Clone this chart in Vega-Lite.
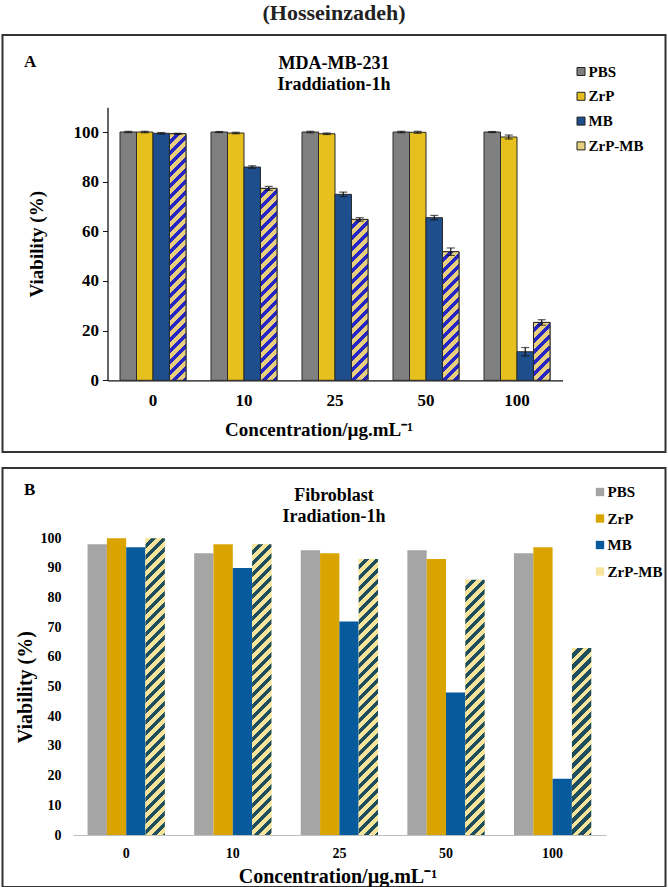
{
  "$schema": "https://vega.github.io/schema/vega-lite/v6.json",
  "padding": {"left": 1.5, "top": 2, "right": 1, "bottom": 0},
  "title": {"text": "(Hosseinzadeh)", "fontSize": 22, "font": "Liberation Serif", "fontWeight": "bold", "color": "#222", "anchor": "middle", "offset": 9},
  "params": [
    {"name": "hatchA", "value": [
      {"offset":0,"color":"#E8CF7E"},{"offset":0.022,"color":"#E8CF7E"},{"offset":0.022,"color":"#2626C4"},{"offset":0.04,"color":"#2626C4"},
      {"offset":0.04,"color":"#E8CF7E"},{"offset":0.062,"color":"#E8CF7E"},{"offset":0.062,"color":"#2626C4"},{"offset":0.08,"color":"#2626C4"},
      {"offset":0.08,"color":"#E8CF7E"},{"offset":0.102,"color":"#E8CF7E"},{"offset":0.102,"color":"#2626C4"},{"offset":0.12,"color":"#2626C4"},
      {"offset":0.12,"color":"#E8CF7E"},{"offset":0.142,"color":"#E8CF7E"},{"offset":0.142,"color":"#2626C4"},{"offset":0.16,"color":"#2626C4"},
      {"offset":0.16,"color":"#E8CF7E"},{"offset":0.182,"color":"#E8CF7E"},{"offset":0.182,"color":"#2626C4"},{"offset":0.2,"color":"#2626C4"},
      {"offset":0.2,"color":"#E8CF7E"},{"offset":0.222,"color":"#E8CF7E"},{"offset":0.222,"color":"#2626C4"},{"offset":0.24,"color":"#2626C4"},
      {"offset":0.24,"color":"#E8CF7E"},{"offset":0.262,"color":"#E8CF7E"},{"offset":0.262,"color":"#2626C4"},{"offset":0.28,"color":"#2626C4"},
      {"offset":0.28,"color":"#E8CF7E"},{"offset":0.302,"color":"#E8CF7E"},{"offset":0.302,"color":"#2626C4"},{"offset":0.32,"color":"#2626C4"},
      {"offset":0.32,"color":"#E8CF7E"},{"offset":0.342,"color":"#E8CF7E"},{"offset":0.342,"color":"#2626C4"},{"offset":0.36,"color":"#2626C4"},
      {"offset":0.36,"color":"#E8CF7E"},{"offset":0.382,"color":"#E8CF7E"},{"offset":0.382,"color":"#2626C4"},{"offset":0.4,"color":"#2626C4"},
      {"offset":0.4,"color":"#E8CF7E"},{"offset":0.422,"color":"#E8CF7E"},{"offset":0.422,"color":"#2626C4"},{"offset":0.44,"color":"#2626C4"},
      {"offset":0.44,"color":"#E8CF7E"},{"offset":0.462,"color":"#E8CF7E"},{"offset":0.462,"color":"#2626C4"},{"offset":0.48,"color":"#2626C4"},
      {"offset":0.48,"color":"#E8CF7E"},{"offset":0.502,"color":"#E8CF7E"},{"offset":0.502,"color":"#2626C4"},{"offset":0.52,"color":"#2626C4"},
      {"offset":0.52,"color":"#E8CF7E"},{"offset":0.542,"color":"#E8CF7E"},{"offset":0.542,"color":"#2626C4"},{"offset":0.56,"color":"#2626C4"},
      {"offset":0.56,"color":"#E8CF7E"},{"offset":0.582,"color":"#E8CF7E"},{"offset":0.582,"color":"#2626C4"},{"offset":0.6,"color":"#2626C4"},
      {"offset":0.6,"color":"#E8CF7E"},{"offset":0.622,"color":"#E8CF7E"},{"offset":0.622,"color":"#2626C4"},{"offset":0.64,"color":"#2626C4"},
      {"offset":0.64,"color":"#E8CF7E"},{"offset":0.662,"color":"#E8CF7E"},{"offset":0.662,"color":"#2626C4"},{"offset":0.68,"color":"#2626C4"},
      {"offset":0.68,"color":"#E8CF7E"},{"offset":0.702,"color":"#E8CF7E"},{"offset":0.702,"color":"#2626C4"},{"offset":0.72,"color":"#2626C4"},
      {"offset":0.72,"color":"#E8CF7E"},{"offset":0.742,"color":"#E8CF7E"},{"offset":0.742,"color":"#2626C4"},{"offset":0.76,"color":"#2626C4"},
      {"offset":0.76,"color":"#E8CF7E"},{"offset":0.782,"color":"#E8CF7E"},{"offset":0.782,"color":"#2626C4"},{"offset":0.8,"color":"#2626C4"},
      {"offset":0.8,"color":"#E8CF7E"},{"offset":0.822,"color":"#E8CF7E"},{"offset":0.822,"color":"#2626C4"},{"offset":0.84,"color":"#2626C4"},
      {"offset":0.84,"color":"#E8CF7E"},{"offset":0.862,"color":"#E8CF7E"},{"offset":0.862,"color":"#2626C4"},{"offset":0.88,"color":"#2626C4"},
      {"offset":0.88,"color":"#E8CF7E"},{"offset":0.902,"color":"#E8CF7E"},{"offset":0.902,"color":"#2626C4"},{"offset":0.92,"color":"#2626C4"},
      {"offset":0.92,"color":"#E8CF7E"},{"offset":0.942,"color":"#E8CF7E"},{"offset":0.942,"color":"#2626C4"},{"offset":0.96,"color":"#2626C4"},
      {"offset":0.96,"color":"#E8CF7E"},{"offset":0.982,"color":"#E8CF7E"},{"offset":0.982,"color":"#2626C4"},{"offset":1,"color":"#2626C4"}
    ]},
    {"name": "hatchB", "value": [
      {"offset":0,"color":"#F7E49C"},{"offset":0.017,"color":"#F7E49C"},{"offset":0.017,"color":"#1E4E5E"},{"offset":0.03125,"color":"#1E4E5E"},
      {"offset":0.03125,"color":"#F7E49C"},{"offset":0.04825,"color":"#F7E49C"},{"offset":0.04825,"color":"#1E4E5E"},{"offset":0.0625,"color":"#1E4E5E"},
      {"offset":0.0625,"color":"#F7E49C"},{"offset":0.0795,"color":"#F7E49C"},{"offset":0.0795,"color":"#1E4E5E"},{"offset":0.09375,"color":"#1E4E5E"},
      {"offset":0.09375,"color":"#F7E49C"},{"offset":0.11075,"color":"#F7E49C"},{"offset":0.11075,"color":"#1E4E5E"},{"offset":0.125,"color":"#1E4E5E"},
      {"offset":0.125,"color":"#F7E49C"},{"offset":0.142,"color":"#F7E49C"},{"offset":0.142,"color":"#1E4E5E"},{"offset":0.15625,"color":"#1E4E5E"},
      {"offset":0.15625,"color":"#F7E49C"},{"offset":0.17325,"color":"#F7E49C"},{"offset":0.17325,"color":"#1E4E5E"},{"offset":0.1875,"color":"#1E4E5E"},
      {"offset":0.1875,"color":"#F7E49C"},{"offset":0.2045,"color":"#F7E49C"},{"offset":0.2045,"color":"#1E4E5E"},{"offset":0.21875,"color":"#1E4E5E"},
      {"offset":0.21875,"color":"#F7E49C"},{"offset":0.23575,"color":"#F7E49C"},{"offset":0.23575,"color":"#1E4E5E"},{"offset":0.25,"color":"#1E4E5E"},
      {"offset":0.25,"color":"#F7E49C"},{"offset":0.267,"color":"#F7E49C"},{"offset":0.267,"color":"#1E4E5E"},{"offset":0.28125,"color":"#1E4E5E"},
      {"offset":0.28125,"color":"#F7E49C"},{"offset":0.29825,"color":"#F7E49C"},{"offset":0.29825,"color":"#1E4E5E"},{"offset":0.3125,"color":"#1E4E5E"},
      {"offset":0.3125,"color":"#F7E49C"},{"offset":0.3295,"color":"#F7E49C"},{"offset":0.3295,"color":"#1E4E5E"},{"offset":0.34375,"color":"#1E4E5E"},
      {"offset":0.34375,"color":"#F7E49C"},{"offset":0.36075,"color":"#F7E49C"},{"offset":0.36075,"color":"#1E4E5E"},{"offset":0.375,"color":"#1E4E5E"},
      {"offset":0.375,"color":"#F7E49C"},{"offset":0.392,"color":"#F7E49C"},{"offset":0.392,"color":"#1E4E5E"},{"offset":0.40625,"color":"#1E4E5E"},
      {"offset":0.40625,"color":"#F7E49C"},{"offset":0.42325,"color":"#F7E49C"},{"offset":0.42325,"color":"#1E4E5E"},{"offset":0.4375,"color":"#1E4E5E"},
      {"offset":0.4375,"color":"#F7E49C"},{"offset":0.4545,"color":"#F7E49C"},{"offset":0.4545,"color":"#1E4E5E"},{"offset":0.46875,"color":"#1E4E5E"},
      {"offset":0.46875,"color":"#F7E49C"},{"offset":0.48575,"color":"#F7E49C"},{"offset":0.48575,"color":"#1E4E5E"},{"offset":0.5,"color":"#1E4E5E"},
      {"offset":0.5,"color":"#F7E49C"},{"offset":0.517,"color":"#F7E49C"},{"offset":0.517,"color":"#1E4E5E"},{"offset":0.53125,"color":"#1E4E5E"},
      {"offset":0.53125,"color":"#F7E49C"},{"offset":0.54825,"color":"#F7E49C"},{"offset":0.54825,"color":"#1E4E5E"},{"offset":0.5625,"color":"#1E4E5E"},
      {"offset":0.5625,"color":"#F7E49C"},{"offset":0.5795,"color":"#F7E49C"},{"offset":0.5795,"color":"#1E4E5E"},{"offset":0.59375,"color":"#1E4E5E"},
      {"offset":0.59375,"color":"#F7E49C"},{"offset":0.61075,"color":"#F7E49C"},{"offset":0.61075,"color":"#1E4E5E"},{"offset":0.625,"color":"#1E4E5E"},
      {"offset":0.625,"color":"#F7E49C"},{"offset":0.642,"color":"#F7E49C"},{"offset":0.642,"color":"#1E4E5E"},{"offset":0.65625,"color":"#1E4E5E"},
      {"offset":0.65625,"color":"#F7E49C"},{"offset":0.67325,"color":"#F7E49C"},{"offset":0.67325,"color":"#1E4E5E"},{"offset":0.6875,"color":"#1E4E5E"},
      {"offset":0.6875,"color":"#F7E49C"},{"offset":0.7045,"color":"#F7E49C"},{"offset":0.7045,"color":"#1E4E5E"},{"offset":0.71875,"color":"#1E4E5E"},
      {"offset":0.71875,"color":"#F7E49C"},{"offset":0.73575,"color":"#F7E49C"},{"offset":0.73575,"color":"#1E4E5E"},{"offset":0.75,"color":"#1E4E5E"},
      {"offset":0.75,"color":"#F7E49C"},{"offset":0.767,"color":"#F7E49C"},{"offset":0.767,"color":"#1E4E5E"},{"offset":0.78125,"color":"#1E4E5E"},
      {"offset":0.78125,"color":"#F7E49C"},{"offset":0.79825,"color":"#F7E49C"},{"offset":0.79825,"color":"#1E4E5E"},{"offset":0.8125,"color":"#1E4E5E"},
      {"offset":0.8125,"color":"#F7E49C"},{"offset":0.8295,"color":"#F7E49C"},{"offset":0.8295,"color":"#1E4E5E"},{"offset":0.84375,"color":"#1E4E5E"},
      {"offset":0.84375,"color":"#F7E49C"},{"offset":0.86075,"color":"#F7E49C"},{"offset":0.86075,"color":"#1E4E5E"},{"offset":0.875,"color":"#1E4E5E"},
      {"offset":0.875,"color":"#F7E49C"},{"offset":0.892,"color":"#F7E49C"},{"offset":0.892,"color":"#1E4E5E"},{"offset":0.90625,"color":"#1E4E5E"},
      {"offset":0.90625,"color":"#F7E49C"},{"offset":0.92325,"color":"#F7E49C"},{"offset":0.92325,"color":"#1E4E5E"},{"offset":0.9375,"color":"#1E4E5E"},
      {"offset":0.9375,"color":"#F7E49C"},{"offset":0.9545,"color":"#F7E49C"},{"offset":0.9545,"color":"#1E4E5E"},{"offset":0.96875,"color":"#1E4E5E"},
      {"offset":0.96875,"color":"#F7E49C"},{"offset":0.98575,"color":"#F7E49C"},{"offset":0.98575,"color":"#1E4E5E"},{"offset":1,"color":"#1E4E5E"}
    ]}
  ],
  "spacing": 14,
  "vconcat": [
    {
      "width": 663,
      "height": 417,
      "title": {"text": ["MDA-MB-231", "Iraddiation-1h"], "fontSize": 18, "lineHeight": 21, "baseline": "alphabetic", "offset": -73, "anchor": "middle", "frame": "group"},
      "data": {"values": [
        {"conc": "0", "g": "PBS", "v": 100, "e": 0.3},
        {"conc": "0", "g": "ZrP", "v": 100, "e": 0.3},
        {"conc": "0", "g": "MB", "v": 99.5, "e": 0.3},
        {"conc": "0", "g": "ZrP-MB", "v": 99.3, "e": 0.2},
        {"conc": "10", "g": "PBS", "v": 100, "e": 0.2},
        {"conc": "10", "g": "ZrP", "v": 99.6, "e": 0.3},
        {"conc": "10", "g": "MB", "v": 85.9, "e": 0.5},
        {"conc": "10", "g": "ZrP-MB", "v": 77.3, "e": 0.8},
        {"conc": "25", "g": "PBS", "v": 100, "e": 0.3},
        {"conc": "25", "g": "ZrP", "v": 99.3, "e": 0.3},
        {"conc": "25", "g": "MB", "v": 74.9, "e": 0.9},
        {"conc": "25", "g": "ZrP-MB", "v": 64.8, "e": 0.7},
        {"conc": "50", "g": "PBS", "v": 100, "e": 0.3},
        {"conc": "50", "g": "ZrP", "v": 99.9, "e": 0.4},
        {"conc": "50", "g": "MB", "v": 65.5, "e": 0.9},
        {"conc": "50", "g": "ZrP-MB", "v": 51.8, "e": 1.5},
        {"conc": "100", "g": "PBS", "v": 100, "e": 0.2},
        {"conc": "100", "g": "ZrP", "v": 98.0, "e": 0.8},
        {"conc": "100", "g": "MB", "v": 11.5, "e": 1.7},
        {"conc": "100", "g": "ZrP-MB", "v": 23.3, "e": 1.1}
      ]},
      "layer": [
        {
          "mark": {"type": "bar", "stroke": "#2a2a2a", "strokeWidth": 1},
          "encoding": {
            "x": {"field": "conc", "type": "nominal", "scale": {"domain": ["0", "10", "25", "50", "100"], "range": [105, 560], "paddingInner": 0.275, "paddingOuter": 0.1375},
              "axis": {"orient": "bottom", "offset": -71.7, "ticks": false, "labelPadding": 12.5, "labelAngle": 0, "labelFontSize": 17, "domainColor": "#111", "domainWidth": 1.3, "title": "Concentration/µg.mL⁻¹", "titleFontSize": 19, "titleX": 316, "titleY": 55, "titleAlign": "center", "titleBaseline": "alphabetic"}},
            "xOffset": {"field": "g", "type": "nominal", "scale": {"domain": ["PBS", "ZrP", "MB", "ZrP-MB"], "paddingInner": 0, "paddingOuter": 0}},
            "y": {"field": "v", "type": "quantitative", "title": "Viability (%)", "scale": {"domain": [0, 110], "range": [345.3, 72.2], "nice": false},
              "axis": {"offset": -105, "values": [0, 20, 40, 60, 80, 100], "tickSize": 5, "labelPadding": 4, "labelFontSize": 17, "domainColor": "#111", "domainWidth": 1.3, "tickColor": "#111", "titleFontSize": 19, "titlePadding": 27}},
            "color": {"field": "g", "type": "nominal", "scale": {"domain": ["PBS", "ZrP", "MB", "ZrP-MB"], "range": ["#808080", "#E6C01E", "#1E4E8C", "#E8CF7E"]},
              "legend": {"orient": "none", "legendX": 571, "legendY": 29, "title": null, "symbolType": "square", "symbolSize": 64, "symbolStrokeColor": "#222", "symbolStrokeWidth": 1, "labelFontSize": 15, "labelOffset": 0, "rowPadding": 8.8, "padding": 0,
                "encode": {"symbols": {"update": {"fill": {"signal": "datum.value === 'PBS' ? '#808080' : datum.value === 'ZrP' ? '#E6C01E' : datum.value === 'MB' ? '#1E4E8C' : {gradient: 'linear', x1: 0, y1: 0, x2: 1, y2: 1, stops: [{offset: 0, color: '#F3E6B8'}, {offset: 0.5, color: '#F3E6B8'}, {offset: 0.5, color: '#2626C4'}, {offset: 1, color: '#2626C4'}]}"}, "stroke": {"value": "#222"}, "strokeWidth": {"value": 1}}}}}}
          }
        },
        {
          "transform": [{"filter": "datum.g === 'ZrP-MB'"}],
          "mark": {"type": "bar", "stroke": "#2a2a2a", "strokeWidth": 1,
            "fill": {"expr": "{gradient: 'linear', x1: 0, y1: 0, x2: 275 * 16.49 / (16.49 * 16.49 + pow(datum.v * 2.4827, 2)), y2: 275 * datum.v * 2.4827 / (16.49 * 16.49 + pow(datum.v * 2.4827, 2)), stops: hatchA}"}},
          "encoding": {
            "x": {"field": "conc", "type": "nominal", "scale": {"domain": ["0", "10", "25", "50", "100"]},
              "axis": {"orient": "top", "labels": false, "ticks": false, "domain": false, "title": "A", "titleX": 21, "titleY": 31, "titleAlign": "left", "titleBaseline": "alphabetic", "titleFontSize": 17}},
            "xOffset": {"field": "g", "type": "nominal", "scale": {"domain": ["PBS", "ZrP", "MB", "ZrP-MB"]}},
            "y": {"field": "v", "type": "quantitative", "title": "Viability (%)"}
          }
        },
        {
          "mark": {"type": "errorbar", "ticks": {"size": 8, "color": "#111", "thickness": 1.2}, "rule": {"color": "#111", "strokeWidth": 1.2}},
          "encoding": {
            "x": {"field": "conc", "type": "nominal", "scale": {"domain": ["0", "10", "25", "50", "100"]}, "axis": null},
            "xOffset": {"field": "g", "type": "nominal", "scale": {"domain": ["PBS", "ZrP", "MB", "ZrP-MB"]}},
            "y": {"field": "v", "type": "quantitative", "title": "Viability (%)"},
            "yError": {"field": "e"}
          }
        }
      ],
      "resolve": {"axis": {"x": "independent"}}
    },
    {
      "width": 663,
      "height": 419,
      "title": {"text": ["Fibroblast", "Iradiation-1h"], "fontSize": 18, "lineHeight": 21, "baseline": "alphabetic", "offset": -72, "anchor": "middle", "frame": "group"},
      "data": {"values": [
        {"conc": "0", "g": "PBS", "v": 98},
        {"conc": "0", "g": "ZrP", "v": 100},
        {"conc": "0", "g": "MB", "v": 97},
        {"conc": "0", "g": "ZrP-MB", "v": 100},
        {"conc": "10", "g": "PBS", "v": 95},
        {"conc": "10", "g": "ZrP", "v": 98},
        {"conc": "10", "g": "MB", "v": 90},
        {"conc": "10", "g": "ZrP-MB", "v": 98},
        {"conc": "25", "g": "PBS", "v": 96},
        {"conc": "25", "g": "ZrP", "v": 95},
        {"conc": "25", "g": "MB", "v": 72},
        {"conc": "25", "g": "ZrP-MB", "v": 93},
        {"conc": "50", "g": "PBS", "v": 96},
        {"conc": "50", "g": "ZrP", "v": 93},
        {"conc": "50", "g": "MB", "v": 48},
        {"conc": "50", "g": "ZrP-MB", "v": 86},
        {"conc": "100", "g": "PBS", "v": 95},
        {"conc": "100", "g": "ZrP", "v": 97},
        {"conc": "100", "g": "MB", "v": 19},
        {"conc": "100", "g": "ZrP-MB", "v": 63}
      ]},
      "layer": [
        {
          "mark": {"type": "bar"},
          "encoding": {
            "x": {"field": "conc", "type": "nominal", "scale": {"domain": ["0", "10", "25", "50", "100"], "range": [70.4, 603.4], "paddingInner": 0.275, "paddingOuter": 0.1375},
              "axis": {"orient": "bottom", "offset": -52, "ticks": false, "labelPadding": 11, "labelAngle": 0, "labelFontSize": 14, "domainColor": "#BFBFBF", "domainWidth": 1, "title": "Concentration/µg.mL⁻¹", "titleFontSize": 20, "titleX": 335, "titleY": 47, "titleAlign": "center", "titleBaseline": "alphabetic"}},
            "xOffset": {"field": "g", "type": "nominal", "scale": {"domain": ["PBS", "ZrP", "MB", "ZrP-MB"], "paddingInner": 0, "paddingOuter": 0}},
            "y": {"field": "v", "type": "quantitative", "title": "Viability (%)", "scale": {"domain": [0, 100], "range": [367, 70.3], "nice": false},
              "axis": {"offset": -70.4, "values": [0, 10, 20, 30, 40, 50, 60, 70, 80, 90, 100], "domain": false, "ticks": false, "labelPadding": 12, "labelFontSize": 14, "titleFontSize": 20, "titlePadding": 4}},
            "color": {"field": "g", "type": "nominal", "scale": {"domain": ["PBS", "ZrP", "MB", "ZrP-MB"], "range": ["#A5A5A5", "#D9A400", "#075A9C", "#F7E49C"]},
              "legend": {"orient": "none", "legendX": 590, "legendY": 16.5, "title": null, "symbolType": "square", "symbolSize": 70, "symbolStrokeWidth": 0, "labelFontSize": 15, "labelOffset": 0, "rowPadding": 10.5, "padding": 0,
                "encode": {"symbols": {"update": {"fill": {"signal": "datum.value === 'PBS' ? '#A5A5A5' : datum.value === 'ZrP' ? '#D9A400' : datum.value === 'MB' ? '#075A9C' : {gradient: 'linear', x1: 0, y1: 0, x2: 1, y2: 1, stops: [{offset: 0, color: '#F7E49C'}, {offset: 0.5, color: '#F7E49C'}, {offset: 0.5, color: '#1E4E5E'}, {offset: 1, color: '#1E4E5E'}]}"}}}}}}
          }
        },
        {
          "transform": [{"filter": "datum.g === 'ZrP-MB'"}],
          "mark": {"type": "bar",
            "fill": {"expr": "{gradient: 'linear', x1: 0, y1: 0, x2: 352 * 19.32 / (19.32 * 19.32 + pow(datum.v * 2.967, 2)), y2: 352 * datum.v * 2.967 / (19.32 * 19.32 + pow(datum.v * 2.967, 2)), stops: hatchB}"}},
          "encoding": {
            "x": {"field": "conc", "type": "nominal", "scale": {"domain": ["0", "10", "25", "50", "100"]},
              "axis": {"orient": "top", "labels": false, "ticks": false, "domain": false, "title": "B", "titleX": 21, "titleY": 26, "titleAlign": "left", "titleBaseline": "alphabetic", "titleFontSize": 17}},
            "xOffset": {"field": "g", "type": "nominal", "scale": {"domain": ["PBS", "ZrP", "MB", "ZrP-MB"]}},
            "y": {"field": "v", "type": "quantitative", "title": "Viability (%)"}
          }
        }
      ],
      "resolve": {"axis": {"x": "independent"}}
    }
  ],
  "resolve": {"scale": {"color": "independent", "x": "independent", "y": "independent", "xOffset": "independent"}, "legend": {"color": "independent"}},
  "config": {
    "font": "Liberation Serif",
    "view": {"stroke": "#333", "strokeWidth": 2},
    "axis": {"labelFont": "Liberation Serif", "labelFontWeight": "bold", "labelColor": "black", "titleFont": "Liberation Serif", "titleFontWeight": "bold", "titleColor": "black", "grid": false},
    "legend": {"labelFont": "Liberation Serif", "labelFontWeight": "bold", "labelColor": "black"},
    "title": {"font": "Liberation Serif", "fontWeight": "bold", "color": "black"}
  }
}
